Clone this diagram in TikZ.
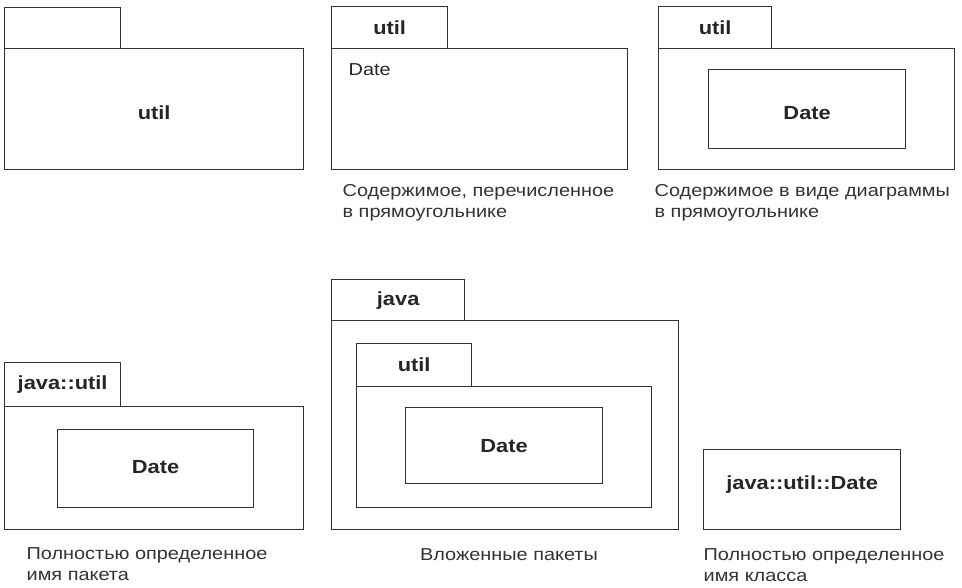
\documentclass[tikz,border=0pt]{standalone}
\usepackage{fontspec}
\setmainfont[FakeStretch=1.15]{Liberation Sans}
\definecolor{lc}{HTML}{333333}
\definecolor{tc}{HTML}{262626}
\definecolor{cc}{HTML}{333333}
\begin{document}
\begin{tikzpicture}[x=1pt,y=-1pt,line width=1.3pt,
  pbox/.style n args={2}{draw=lc, inner sep=0pt, anchor=north west,
    minimum width=#1pt, minimum height=#2pt, font=\fontsize{19}{21}\selectfont\bfseries, text=tc},
  lbl/.style={inner sep=0pt, font=\fontsize{19}{21}\selectfont\bfseries, text=tc},
  captxt/.style={anchor=base west, inner sep=0pt, font=\fontsize{17.3}{21}\selectfont, text=cc}]
\useasboundingbox (0,0) rectangle (962,588);
% top-left
\node[pbox={116}{41}] (t1) at (4,7) {};
\node[pbox={299}{121}] (b1) at (4,48) {};
\node[lbl] (l1) at ([yshift=-4pt]b1.center) {util};
% top-middle
\node[pbox={116}{42}] (t2) at (331,6) {util};
\node[pbox={296}{121}] (b2) at (331,48) {};
\node[anchor=west, inner sep=0pt, font=\fontsize{17.3}{21}\selectfont, text=tc] (d2) at (348,70) {Date};
\node[captxt] (c2a) at (342,197) {Содержимое, перечисленное};
\node[captxt] (c2b) at (342,218) {в прямоугольнике};
% top-right
\node[pbox={113}{42}] (t3) at (658,6) {util};
\node[pbox={296}{121}] (b3) at (658,48) {};
\node[pbox={197}{79}] (d3) at (708,69) {};
\node[lbl] (l3) at ([yshift=-4pt]d3.center) {Date};
\node[captxt] (c3a) at (654,197) {Содержимое в виде диаграммы};
\node[captxt] (c3b) at (654,218) {в прямоугольнике};
% bottom-left
\node[pbox={116}{44}] (t4) at (4,362) {java::util};
\node[pbox={299}{123}] (b4) at (4,406) {};
\node[pbox={196}{78}] (d4) at (57,429) {};
\node[lbl] (l4) at ([yshift=2pt]d4.center) {Date};
\node[captxt] (c4a) at (26,559) {Полностью определенное};
\node[captxt] (c4b) at (26,580) {имя пакета};
% bottom-middle
\node[pbox={133}{41}] (t5) at (331,279) {java};
\node[pbox={347}{209}] (b5) at (331,320) {};
\node[pbox={115}{43}] (t6) at (356,343) {util};
\node[pbox={295}{121}] (b6) at (356,386) {};
\node[pbox={197}{76}] (d6) at (405,407) {Date};
\node[captxt, anchor=base] (c5) at (509,560) {Вложенные пакеты};
% bottom-right
\node[pbox={197}{80}] (d7) at (703,449) {};
\node[lbl] (l7) at ([yshift=5pt]d7.center) {java::util::Date};
\node[captxt] (c7a) at (703,560) {Полностью определенное};
\node[captxt] (c7b) at (703,581) {имя класса};
\end{tikzpicture}
\end{document}
